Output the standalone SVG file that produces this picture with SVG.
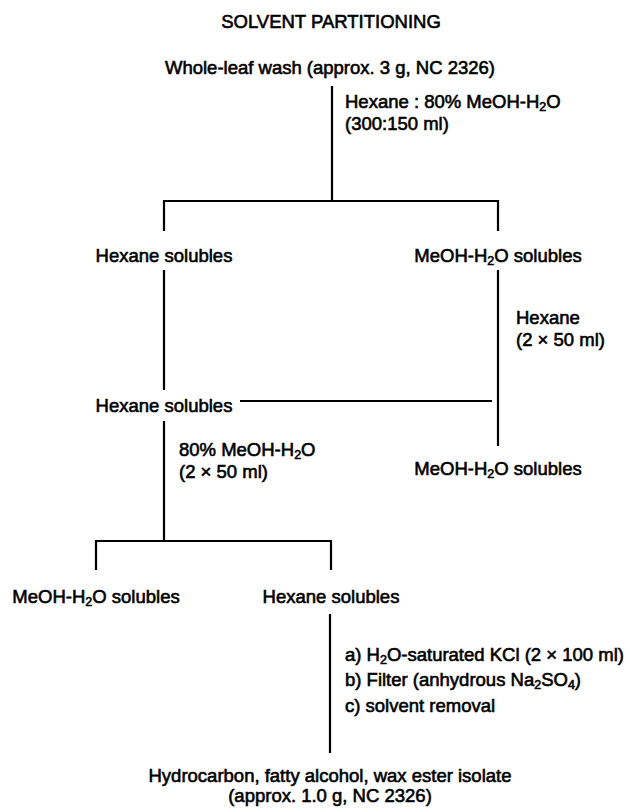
<svg xmlns="http://www.w3.org/2000/svg" width="630" height="808" viewBox="0 0 630 808">
<style>
text{font-family:"Liberation Sans",Arial,sans-serif;font-size:18.5px;fill:#000;stroke:#000;stroke-width:0.6px}
.c{text-anchor:middle}
.sub{font-size:12.5px}
#connectors line{stroke:#000;stroke-width:2.2;fill:none}
</style>
<rect width="630" height="808" fill="#fff"/>
<g id="connectors">
<line x1="332" y1="86" x2="332" y2="201"/>
<line x1="163" y1="201" x2="499" y2="201"/>
<line x1="164" y1="200" x2="164" y2="231"/>
<line x1="498" y1="200" x2="498" y2="231"/>
<line x1="164" y1="270" x2="164" y2="390"/>
<line x1="498" y1="270" x2="498" y2="446"/>
<line x1="240" y1="401" x2="492" y2="401"/>
<line x1="164" y1="421" x2="164" y2="541"/>
<line x1="95" y1="541" x2="332" y2="541"/>
<line x1="96" y1="540" x2="96" y2="570"/>
<line x1="331" y1="540" x2="331" y2="570"/>
<line x1="330" y1="614" x2="330" y2="753"/>
</g>
<g id="title"><text class="c" x="331" y="28">SOLVENT PARTITIONING</text></g>
<g id="n-wash"><text class="c" x="330" y="74">Whole-leaf wash (approx. 3 g, NC 2326)</text></g>
<g id="l-step1"><text x="345" y="108">Hexane : 80% MeOH-H<tspan class="sub" dy="3">2</tspan><tspan dy="-3">O</tspan></text><text x="345" y="130">(300:150 ml)</text></g>
<g id="n-hex1"><text class="c" x="164" y="262">Hexane solubles</text></g>
<g id="n-meoh1"><text class="c" x="498" y="262">MeOH-H<tspan class="sub" dy="3">2</tspan><tspan dy="-3">O solubles</tspan></text></g>
<g id="l-step2"><text x="516" y="324">Hexane</text><text x="516" y="346">(2 × 50 ml)</text></g>
<g id="n-hex2"><text class="c" x="164" y="412">Hexane solubles</text></g>
<g id="n-meoh2"><text class="c" x="498" y="475">MeOH-H<tspan class="sub" dy="3">2</tspan><tspan dy="-3">O solubles</tspan></text></g>
<g id="l-step3"><text x="179" y="456">80% MeOH-H<tspan class="sub" dy="3">2</tspan><tspan dy="-3">O</tspan></text><text x="179" y="478">(2 × 50 ml)</text></g>
<g id="n-meoh3"><text class="c" x="96" y="603">MeOH-H<tspan class="sub" dy="3">2</tspan><tspan dy="-3">O solubles</tspan></text></g>
<g id="n-hex3"><text class="c" x="331" y="603">Hexane solubles</text></g>
<g id="l-step4"><text x="345" y="661">a) H<tspan class="sub" dy="3">2</tspan><tspan dy="-3">O-saturated KCl (2 × 100 ml)</tspan></text><text x="345" y="686">b) Filter (anhydrous Na<tspan class="sub" dy="3">2</tspan><tspan dy="-3">SO</tspan><tspan class="sub" dy="3">4</tspan><tspan dy="-3">)</tspan></text><text x="345" y="712">c) solvent removal</text></g>
<g id="n-isolate"><text class="c" x="330" y="782">Hydrocarbon, fatty alcohol, wax ester isolate</text><text class="c" x="330" y="802">(approx. 1.0 g, NC 2326)</text></g>
</svg>
